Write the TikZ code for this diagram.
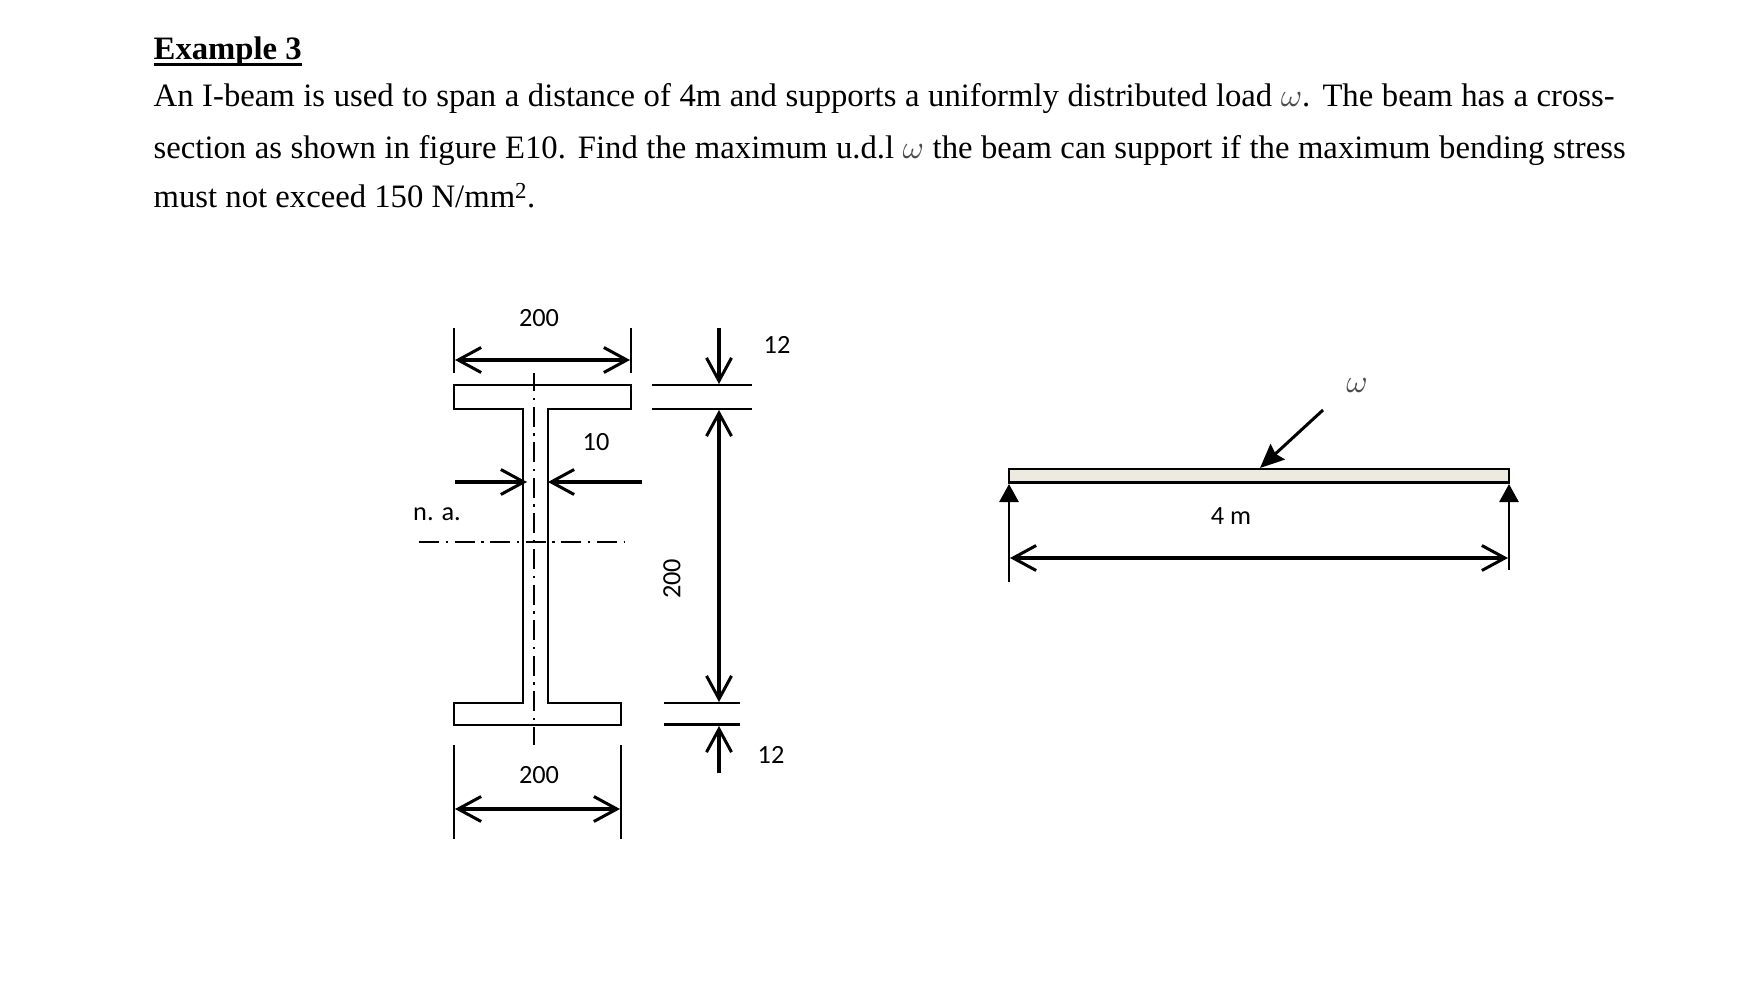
\documentclass[tikz,border=0pt]{standalone}
\usepackage{graphicx}
\usepackage{fontspec}
\setmainfont{Liberation Serif}
\newfontfamily\labelfont{Carlito}
\usetikzlibrary{arrows.meta}
\definecolor{beamfill}{HTML}{EDEBE0}
\tikzset{
  x=1pt,y=-1pt,
  bodytext/.style={anchor=base west,inner sep=0pt,font=\fontsize{32.7}{36}\selectfont},
  dimlabel/.style={inner sep=0pt,font=\labelfont\fontsize{26.3}{28}\selectfont},
  outline/.style={line width=2.5pt,line join=miter},
  extline/.style={line width=2.1pt},
  dimarrow/.style={line width=3.1pt,-{Straight Barb[length=23pt,width=25pt,line width=3pt]}},
  dimboth/.style={line width=3.1pt,{Straight Barb[length=23pt,width=25pt,line width=3pt]}-{Straight Barb[length=23pt,width=25pt,line width=3pt]}},
  centreline/.style={line width=2pt,dash pattern=on 20pt off 6.55pt on 2.5pt off 6.55pt},
}
\newcommand{\wsym}{{\normalsize\color{black!70}\scalebox{3.25}{$\omega$}}}
\begin{document}
\begin{tikzpicture}
\useasboundingbox (0,0) rectangle (1764,1000);
% text
\node[bodytext] (title) at (153.5,60) {\textbf{Example 3}};
\draw[line width=2.8pt] ([yshift=-4.5pt]title.base west) -- ([yshift=-4.5pt]title.base east);
\node[bodytext] (lineone) at (153.5,107) {\makebox[1461pt][s]{An I-beam is used to span a distance of 4m and supports a uniformly distributed load \wsym. The beam has a cross-}};
\node[bodytext] (linetwo) at (153.5,159) {\makebox[1472pt][s]{section as shown in figure E10. Find the maximum u.d.l \wsym{} the beam can support if the maximum bending stress}};
\node[bodytext] (linethree) at (153.5,208) {must not exceed 150 N/mm\textsuperscript{2}.};
% I section
\draw[outline] (454,385) -- (631,385) -- (631,409) -- (548,409) -- (548,703) -- (621,703) -- (621,725) -- (454,725) -- (454,703) -- (523,703) -- (523,409) -- (454,409) -- cycle;
\coordinate (cltop) at (534,373); \coordinate (clbot) at (534,745);
\draw[centreline,dash phase=2pt] (cltop) -- (clbot);
\coordinate (naleft) at (419,542); \coordinate (naright) at (625,542);
\draw[centreline] (naleft) -- (naright);
% top width
\coordinate (etl) at (454,328); \coordinate (etlb) at (454,373);
\coordinate (etr) at (631,328); \coordinate (etrb) at (631,373);
\draw[extline] (etl) -- (etlb);
\draw[extline] (etr) -- (etrb);
\coordinate (dtl) at (455,360); \coordinate (dtr) at (630,360);
\draw[dimboth] (dtl) -- (dtr);
% bottom width
\coordinate (ebl) at (454,745); \coordinate (eblb) at (454,839);
\coordinate (ebr) at (621,745); \coordinate (ebrb) at (621,839);
\draw[extline] (ebl) -- (eblb);
\draw[extline] (ebr) -- (ebrb);
\coordinate (dbl) at (455,809); \coordinate (dbr) at (620,809);
\draw[dimboth] (dbl) -- (dbr);
% web thickness
\coordinate (wla) at (455,482); \coordinate (wlb) at (527,482);
\coordinate (wra) at (642,482); \coordinate (wrb) at (548,482);
\draw[dimarrow] (wla) -- (wlb);
\draw[dimarrow] (wra) -- (wrb);
% right dimensions
\coordinate (hta) at (652,385); \coordinate (htb) at (752,385);
\coordinate (hua) at (652,409); \coordinate (hub) at (752,409);
\coordinate (hva) at (664,703); \coordinate (hvb) at (740,703);
\coordinate (hwa) at (664,724.5); \coordinate (hwb) at (740,724.5);
\draw[extline] (hta) -- (htb);
\draw[extline] (hua) -- (hub);
\draw[extline] (hva) -- (hvb);
\draw[extline] (hwa) -- (hwb);
\coordinate (ata) at (719,328); \coordinate (atb) at (719,384);
\draw[dimarrow] (ata) -- (atb);
\coordinate (ama) at (719,410); \coordinate (amb) at (719,702);
\draw[dimboth] (ama) -- (amb);
\coordinate (aba) at (719,773); \coordinate (abb) at (719,726);
\draw[dimarrow] (aba) -- (abb);
% labels
\node[dimlabel] (wtop) at (539,318) {200};
\node[dimlabel] (wbot) at (539,775) {200};
\node[dimlabel] (ttop) at (777,345) {12};
\node[dimlabel] (tbot) at (771,755) {12};
\node[dimlabel] (tweb) at (596,442) {10};
\node[dimlabel] (naxis) at (437,514) {n. a.};
\node[dimlabel,rotate=90] (hgt) at (672,579) {200};
% beam
\fill[beamfill] (1009,469) rectangle (1509,483);
\draw[line width=2.2pt] (1009,483) -- (1009,469) -- (1509,469) -- (1509,483);
\draw[line width=3.4pt] (1008,482.5) -- (1510,482.5);
\coordinate (sla) at (1009,582); \coordinate (slb) at (1009,484);
\coordinate (sra) at (1509,570); \coordinate (srb) at (1509,484);
\draw[line width=2.8pt,-{Triangle[length=18pt,width=19pt]}] (sla) -- (slb);
\draw[line width=2.8pt,-{Triangle[length=18pt,width=19pt]}] (sra) -- (srb);
\coordinate (spa) at (1010,558); \coordinate (spb) at (1508,558);
\draw[dimboth] (spa) -- (spb);
\coordinate (lda) at (1323,410); \coordinate (ldb) at (1260,468);
\draw[line width=3pt,-{Stealth[length=24pt,width=21pt,inset=3pt]}] (lda) -- (ldb);
\node[dimlabel] (span) at (1231,516) {4 m};
\node[inner sep=0pt] (load) at (1357,386) {\wsym};
\end{tikzpicture}
\end{document}
